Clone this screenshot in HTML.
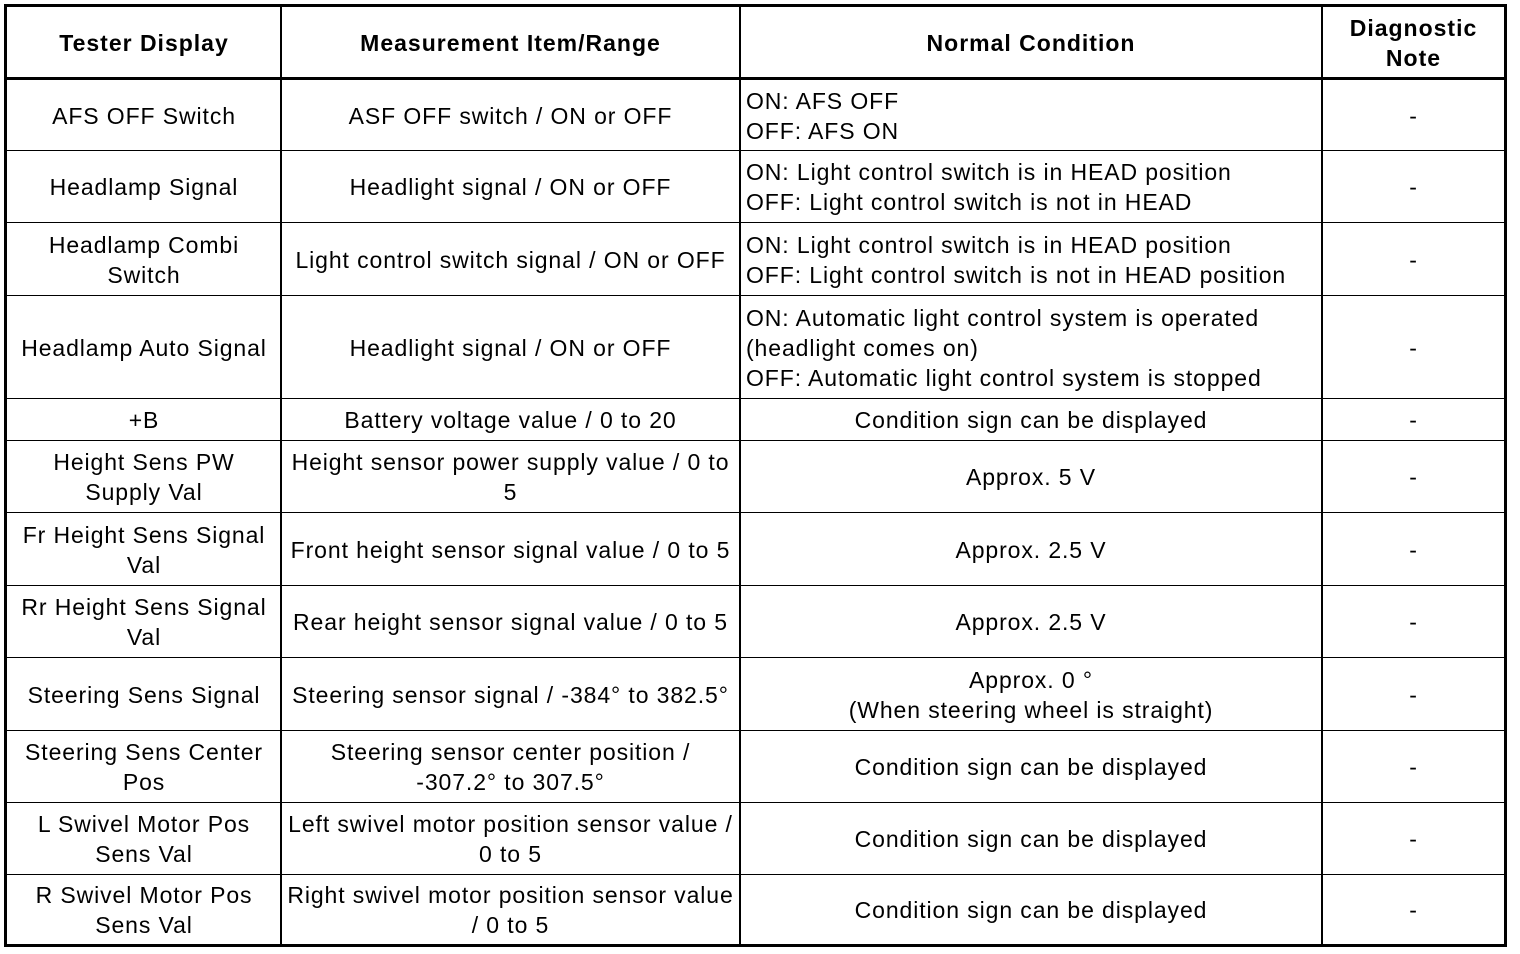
<!DOCTYPE html>
<html><head><meta charset="utf-8"><style>
body{margin:0;width:1520px;height:954px;background:#fff;position:relative;overflow:hidden;font-family:"Liberation Sans",Arial,sans-serif;font-size:23px;letter-spacing:0.9px;color:#000}
.c{position:absolute;display:flex;align-items:center;justify-content:center;text-align:center;line-height:30px;box-sizing:border-box;padding:1px 2px 0 2px;white-space:nowrap}
.l{justify-content:flex-start;text-align:left;padding-left:6px}
.h{font-weight:bold;letter-spacing:1px}
.hl{position:absolute;background:#000;left:5px;width:1502px;height:1px}
.vl{position:absolute;background:#000;top:5px;height:942px;width:2px}
</style></head><body>
<div style="position:absolute;left:4px;top:4px;width:1497px;height:937px;border:3px solid #000"></div>
<div class="hl" style="top:77px;height:3px"></div>
<div class="hl" style="top:150px"></div>
<div class="hl" style="top:222px"></div>
<div class="hl" style="top:295px"></div>
<div class="hl" style="top:398px"></div>
<div class="hl" style="top:440px"></div>
<div class="hl" style="top:512px"></div>
<div class="hl" style="top:585px"></div>
<div class="hl" style="top:657px"></div>
<div class="hl" style="top:730px"></div>
<div class="hl" style="top:802px"></div>
<div class="hl" style="top:874px"></div>
<div class="vl" style="left:280px"></div>
<div class="vl" style="left:739px"></div>
<div class="vl" style="left:1321px"></div>

<div class="c h" style="left:7px;width:274px;top:7px;height:71px">Tester Display</div>
<div class="c h" style="left:281px;width:459px;top:7px;height:71px">Measurement Item/Range</div>
<div class="c h" style="left:740px;width:582px;top:7px;height:71px">Normal Condition</div>
<div class="c h" style="left:1322px;width:183px;top:7px;height:71px">Diagnostic<br>Note</div>

<div class="c" style="left:7px;width:274px;top:80px;height:70px">AFS OFF Switch</div>
<div class="c" style="left:281px;width:459px;top:80px;height:70px">ASF OFF switch / ON or OFF</div>
<div class="c l" style="left:740px;width:582px;top:80px;height:70px">ON: AFS OFF<br>OFF: AFS ON</div>
<div class="c" style="left:1322px;width:183px;top:80px;height:70px">-</div>

<div class="c" style="left:7px;width:274px;top:151px;height:71px">Headlamp Signal</div>
<div class="c" style="left:281px;width:459px;top:151px;height:71px">Headlight signal / ON or OFF</div>
<div class="c l" style="left:740px;width:582px;top:151px;height:71px">ON: Light control switch is in HEAD position<br>OFF: Light control switch is not in HEAD</div>
<div class="c" style="left:1322px;width:183px;top:151px;height:71px">-</div>

<div class="c" style="left:7px;width:274px;top:223px;height:72px">Headlamp Combi<br>Switch</div>
<div class="c" style="left:281px;width:459px;top:223px;height:72px">Light control switch signal / ON or OFF</div>
<div class="c l" style="left:740px;width:582px;top:223px;height:72px">ON: Light control switch is in HEAD position<br>OFF: Light control switch is not in HEAD position</div>
<div class="c" style="left:1322px;width:183px;top:223px;height:72px">-</div>

<div class="c" style="left:7px;width:274px;top:296px;height:102px">Headlamp Auto Signal</div>
<div class="c" style="left:281px;width:459px;top:296px;height:102px">Headlight signal / ON or OFF</div>
<div class="c l" style="left:740px;width:582px;top:296px;height:102px">ON: Automatic light control system is operated<br>(headlight comes on)<br>OFF: Automatic light control system is stopped</div>
<div class="c" style="left:1322px;width:183px;top:296px;height:102px">-</div>

<div class="c" style="left:7px;width:274px;top:399px;height:41px">+B</div>
<div class="c" style="left:281px;width:459px;top:399px;height:41px">Battery voltage value / 0 to 20</div>
<div class="c" style="left:740px;width:582px;top:399px;height:41px">Condition sign can be displayed</div>
<div class="c" style="left:1322px;width:183px;top:399px;height:41px">-</div>

<div class="c" style="left:7px;width:274px;top:441px;height:71px">Height Sens PW<br>Supply Val</div>
<div class="c" style="left:281px;width:459px;top:441px;height:71px">Height sensor power supply value / 0 to<br>5</div>
<div class="c" style="left:740px;width:582px;top:441px;height:71px">Approx. 5 V</div>
<div class="c" style="left:1322px;width:183px;top:441px;height:71px">-</div>

<div class="c" style="left:7px;width:274px;top:513px;height:72px">Fr Height Sens Signal<br>Val</div>
<div class="c" style="left:281px;width:459px;top:513px;height:72px">Front height sensor signal value / 0 to 5</div>
<div class="c" style="left:740px;width:582px;top:513px;height:72px">Approx. 2.5 V</div>
<div class="c" style="left:1322px;width:183px;top:513px;height:72px">-</div>

<div class="c" style="left:7px;width:274px;top:586px;height:71px">Rr Height Sens Signal<br>Val</div>
<div class="c" style="left:281px;width:459px;top:586px;height:71px">Rear height sensor signal value / 0 to 5</div>
<div class="c" style="left:740px;width:582px;top:586px;height:71px">Approx. 2.5 V</div>
<div class="c" style="left:1322px;width:183px;top:586px;height:71px">-</div>

<div class="c" style="left:7px;width:274px;top:658px;height:72px">Steering Sens Signal</div>
<div class="c" style="left:281px;width:459px;top:658px;height:72px">Steering sensor signal / -384° to 382.5°</div>
<div class="c" style="left:740px;width:582px;top:658px;height:72px">Approx. 0 °<br>(When steering wheel is straight)</div>
<div class="c" style="left:1322px;width:183px;top:658px;height:72px">-</div>

<div class="c" style="left:7px;width:274px;top:731px;height:71px">Steering Sens Center<br>Pos</div>
<div class="c" style="left:281px;width:459px;top:731px;height:71px">Steering sensor center position /<br>-307.2° to 307.5°</div>
<div class="c" style="left:740px;width:582px;top:731px;height:71px">Condition sign can be displayed</div>
<div class="c" style="left:1322px;width:183px;top:731px;height:71px">-</div>

<div class="c" style="left:7px;width:274px;top:803px;height:71px">L Swivel Motor Pos<br>Sens Val</div>
<div class="c" style="left:281px;width:459px;top:803px;height:71px">Left swivel motor position sensor value /<br>0 to 5</div>
<div class="c" style="left:740px;width:582px;top:803px;height:71px">Condition sign can be displayed</div>
<div class="c" style="left:1322px;width:183px;top:803px;height:71px">-</div>

<div class="c" style="left:7px;width:274px;top:875px;height:69px">R Swivel Motor Pos<br>Sens Val</div>
<div class="c" style="left:281px;width:459px;top:875px;height:69px">Right swivel motor position sensor value<br>/ 0 to 5</div>
<div class="c" style="left:740px;width:582px;top:875px;height:69px">Condition sign can be displayed</div>
<div class="c" style="left:1322px;width:183px;top:875px;height:69px">-</div>
</body></html>
